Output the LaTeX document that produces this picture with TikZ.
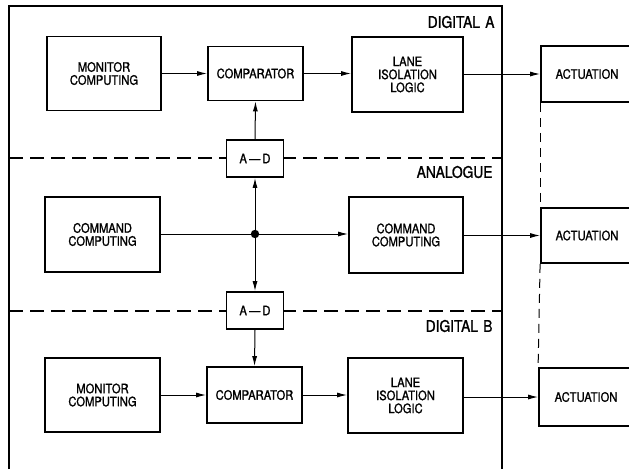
\documentclass[tikz,border=0pt]{standalone}
\usepackage{fontspec}
\setmainfont{TeX Gyre Heros}[FakeStretch=0.86,FakeBold=1.3]
\usetikzlibrary{arrows.meta}
\begin{document}
\begin{tikzpicture}[x=1pt,y=-1pt,
  blk/.style={draw,line width=1.8pt,rectangle,inner sep=0pt,align=center,font=\fontsize{13}{13}\selectfont},
  conn/.style={line width=1pt,-{Latex[length=10pt,width=5pt]}},
  plainline/.style={line width=1pt},
  zone/.style={dash pattern=on 14pt off 7pt,line width=1.3pt},
  linkd/.style={dash pattern=on 9pt off 6pt,line width=1pt},
  frame/.style={line width=1.5pt},
  lbl/.style={anchor=east,font=\fontsize{16}{16}\selectfont}]
\useasboundingbox (0,0) rectangle (629,469);
\clip (0,0) rectangle (629,469);
% frame
\draw[frame] (9,469) -- (9,6) -- (502,6) -- (502,469);
\draw[zone] (9,158) -- (502,158);
\draw[zone] (9,311) -- (502,311);
% labels
\node[lbl] (la) at (498,22) {DIGITAL\,\,A};
\node[lbl] (lb) at (496,172) {ANALOGUE};
\node[lbl] (lc) at (496,326) {DIGITAL\,\,B};
% blocks
\node[blk,minimum width=114pt,minimum height=74pt] (monA) at (104,73.5) {MONITOR\\COMPUTING};
\node[blk,minimum width=95pt,minimum height=54pt] (cmpA) at (255.5,73.5) {COMPARATOR};
\node[blk,minimum width=111pt,minimum height=75pt] (lanA) at (407.5,74.5) {LANE\\ISOLATION\\LOGIC};
\node[blk,minimum width=92pt,minimum height=56pt] (actA) at (587,74) {ACTUATION};
\node[blk,minimum width=57pt,minimum height=37pt,fill=white] (adA) at (255,158.5) {A\,---\,D};
\node[blk,minimum width=115pt,minimum height=75pt] (cmdL) at (102.5,234.5) {COMMAND\\COMPUTING};
\node[blk,minimum width=114pt,minimum height=76pt] (cmdR) at (406,235) {COMMAND\\COMPUTING};
\node[blk,minimum width=92pt,minimum height=55pt] (actM) at (587,235.5) {ACTUATION};
\node[blk,minimum width=57pt,minimum height=37pt,fill=white] (adB) at (255,310.5) {A\,---\,D};
\node[blk,minimum width=115pt,minimum height=74pt] (monB) at (102.5,395) {MONITOR\\COMPUTING};
\node[blk,minimum width=95pt,minimum height=56pt] (cmpB) at (254.5,395) {COMPARATOR};
\node[blk,minimum width=115pt,minimum height=75pt] (lanB) at (405.5,395.5) {LANE\\ISOLATION\\LOGIC};
\node[blk,minimum width=94pt,minimum height=58pt] (actB) at (586,397) {ACTUATION};
% junction
\coordinate (j) at (255,234);
\fill (j) circle (4.2pt);
% connectors
\draw[conn] (monA.east) -- (cmpA.west);
\draw[conn] (cmpA.east) -- (lanA.west|-cmpA.east);
\draw[conn] (lanA.east|-actA.west) -- (actA.west);
\draw[conn] (adA.north) -- (cmpA.south);
\draw[conn] (j) -- (adA.south);
\draw[plainline] (cmdL.east|-j) -- (j);
\draw[conn] (j) -- (cmdR.west|-j);
\draw[conn] (cmdR.east|-actM.west) -- (actM.west);
\draw[conn] (j) -- (adB.north);
\draw[conn] (adB.south) -- (cmpB.north);
\draw[conn] (monB.east|-cmpB.west) -- (cmpB.west);
\draw[conn] (cmpB.east) -- (lanB.west|-cmpB.east);
\draw[conn] (lanB.east|-actB.west) -- (actB.west);
% actuation links
\draw[linkd] (actA.south west) -- (actM.north west);
\draw[linkd] (actM.south west) -- (actB.north west);
\end{tikzpicture}
\end{document}
